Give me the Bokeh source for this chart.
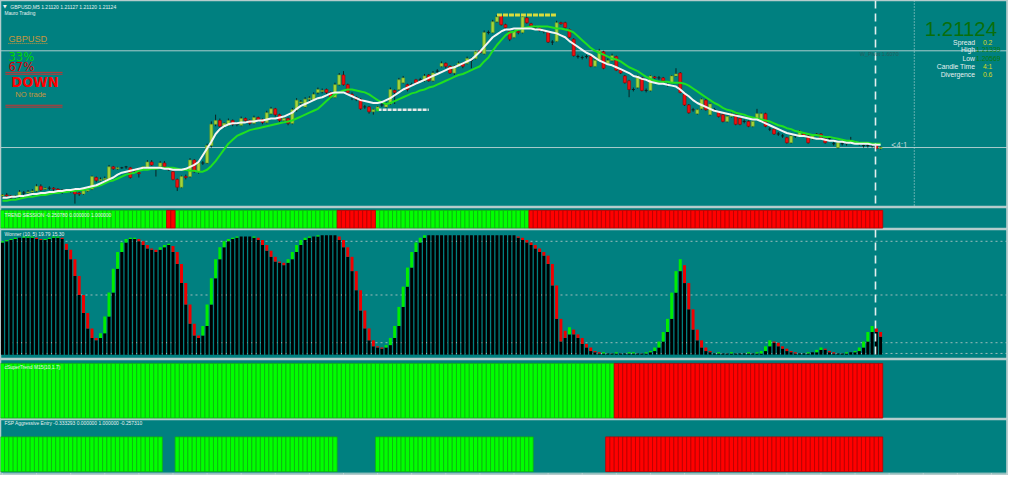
import numpy as np
from bokeh.plotting import figure
from bokeh.layouts import column
from bokeh.models import Range1d, Label, Span
from bokeh.embed import file_html
from bokeh.resources import INLINE

# ---------------- data ----------------
BASE = 1.21000
POINT = 0.00001

open_pts = [74,75,74,73,73,77,77,78,79,84, 81,82,82,81,80,78,78,80,77,76,
            79,81,93,90,91,91,104,102,103,104, 103,101,98,103,103,109,103,104,108,103,
            99,91,83,94,94,111,99,108,108,126, 148,152,146,147,152,148,147,154,152,149,
            155,153,150,159,164,158,152,154,149,163, 170,166,174,173,181,182,184,181,176,189,
            199,189,179,176,174,166,166,161,163,168, 166,169,183,184,191,189,189,194,194,193,
            199,193,203,208,211,208,201,208,211,211, 214,216,224,221,243,243,254,260,251,244,
            238,244,243,258,252,248,247,244,243,233, 234,253,253,246,236,218,217,218,218,208,
            214,223,211,214,218,204,198,193,184,186, 196,183,183,197,196,196,189,191,198,201,
            179,168,163,159,164,173,158,163,161,158, 151,156,158,154,151,151,146,154,151,159,
            143,143,138,136,134,129,136,136,139,136, 133,138,138,133,133,128,124,128,128,129,
            129,128,126,126,126,126,123]
close_pts = [75,74,72,74,78,77,78,79,84,80, 82,82,81,80,78,79,80,76,76,79,
             80,94,90,91,92,104,102,103,103,104, 93,100,97,104,109,106,102,108,104,101,
             91,83,94,93,111,99,108,108,126,148, 152,146,149,152,148,148,154,152,149,155,
             153,150,160,164,158,152,154,149,163,173, 171,174,175,179,184,183,181,176,189,199,
             189,181,177,174,164,166,161,163,166,168, 169,184,181,194,196,184,189,191,194,198,
             193,201,203,211,208,201,208,211,208,216, 214,223,222,243,243,254,259,251,248,236,
             244,243,259,253,250,248,245,244,233,233, 253,252,248,238,219,218,217,218,208,214,
             224,206,214,219,204,201,191,184,184,198, 183,183,198,196,196,193,189,198,200,181,
             168,160,163,163,174,163,169,163,156,151, 156,159,148,148,151,146,151,159,159,146,
             143,138,138,136,129,136,136,141,136,129, 136,137,134,129,133,128,129,128,128,131,
             129,128,126,126,126,123,124]
high_pts = [76,77,75,75,80,79,80,81,86,86, 83,84,83,82,81,80,81,81,78,81,
            82,95,94,93,94,106,105,104,104,105, 104,102,100,105,111,111,104,110,110,104,
            100,92,95,96,113,112,109,110,128,151, 158,154,150,154,153,150,156,155,153,157,
            156,154,162,166,165,159,156,155,165,175, 173,176,177,181,186,185,185,182,191,201,
            203,190,181,177,175,168,167,164,167,170, 171,186,184,196,198,190,191,195,196,200,
            200,203,205,213,212,209,209,213,212,218, 217,224,225,245,245,256,261,261,252,245,
            246,245,260,259,253,250,248,246,244,235, 255,254,254,247,237,220,219,220,219,215,
            226,224,216,221,219,205,199,194,186,199, 197,185,199,198,198,197,191,199,206,202,
            180,169,165,164,175,174,170,165,162,159, 157,160,159,155,153,152,152,164,160,160,
            145,144,140,138,135,137,138,142,140,137, 137,139,139,134,135,130,130,130,130,135,
            131,130,128,128,128,127,125]
low_pts = [72,73,70,71,72,75,76,76,78,79, 80,80,79,78,76,77,77,66,74,75,
           78,80,88,89,90,90,101,101,102,102, 92,98,93,102,102,105,94,103,103,100,
           90,79,82,91,93,98,97,106,107,124, 146,145,144,146,146,146,146,150,147,148,
           151,148,149,158,156,150,151,147,148,161, 168,165,172,172,179,180,179,174,175,188,
           188,179,173,172,163,164,159,158,162,166, 165,168,169,183,190,182,187,189,192,192,
           192,192,201,207,206,200,199,207,206,210, 206,215,221,220,241,242,253,250,246,234,
           237,241,242,252,249,246,244,242,232,230, 233,251,247,237,218,216,215,216,207,207,
           213,205,210,213,203,200,190,176,182,185, 182,181,182,195,194,192,187,190,197,180,
           167,159,161,158,163,162,157,161,155,150, 150,155,147,147,149,145,145,153,150,145,
           141,137,136,134,128,128,134,135,135,128, 132,136,133,128,131,126,123,126,126,128,
           127,126,124,124,124,122,122]

ma_white_pts = [72,72,73,73,74,74,75,76,76,77, 77,78,78,79,79,80,80,81,81,82,
                83,84,85,87,89,91,93,96,98,99, 100,101,102,103,103,103,103,103,102,102,
                101,101,101,102,104,106,109,116,123,130, 138,143,146,148,149,149,150,150,151,151,
                152,152,153,154,154,155,156,158,160,164, 167,169,171,173,175,176,178,180,181,181,
                181,179,177,175,173,172,171,170,170,171, 173,175,178,181,184,186,188,190,192,194,
                196,198,200,202,204,206,207,209,211,213, 215,219,223,228,233,238,241,244,246,246,
                247,247,247,247,247,246,246,245,244,243, 242,240,238,234,231,228,225,222,220,217,
                214,212,210,209,207,205,203,201,198,197, 195,194,192,191,190,190,189,188,187,184,
                180,177,173,170,168,166,164,162,161,160, 159,158,157,156,155,154,153,153,151,149,
                147,145,143,141,139,138,137,136,136,135, 134,133,133,132,131,131,130,130,129,129,
                128,128,128,128,127,127,127]
ma_green_pts = [69,69,70,70,71,72,73,73,74,75, 75,76,77,77,78,78,79,79,80,80,
                81,83,84,85,87,89,90,92,94,96, 97,98,100,101,101,102,102,103,103,103,
                103,102,101,101,100,100,99,99,101,105, 110,116,122,128,132,136,138,140,142,143,
                144,145,146,147,148,149,150,151,152,154, 156,158,160,162,164,168,172,176,179,181,
                183,184,184,183,182,181,179,176,173,171, 169,170,172,174,176,178,180,181,183,184,
                186,187,189,191,193,195,197,199,200,202, 204,206,208,213,217,224,230,235,240,243,
                244,246,247,248,249,249,249,249,249,248, 247,247,246,245,243,239,235,231,227,224,
                222,220,218,216,215,213,210,207,205,203, 200,197,195,193,192,192,192,191,191,191,
                190,188,185,182,179,176,173,170,168,165, 163,162,160,159,158,156,155,154,153,152,
                151,149,147,146,144,143,141,140,139,138, 137,137,136,135,135,134,133,132,131,131,
                130,129,129,129,128,128,128]

pivot_pts = 224
swing_high_bars = [116, 130]
swing_low_bars = [88, 100]
swing_low_pts = 163

# indicator states: (state, number of bars)  1 = up, -1 = down, 0 = none
trend_session_runs = [(1, 39), (-1, 2), (1, 38), (-1, 9), (1, 36), (-1, 83)]
supertrend_runs = [(1, 144), (-1, 63)]
fsp_runs = [(1, 38), (0, 3), (1, 38), (0, 9), (1, 37), (0, 17), (-1, 65)]

wonner_hi = [95,96,97,98,98,99,99,99,98,97,97,98,99,99,98,
             93,88,80,66,50,35,22,14,18,32, 52,72,86,94,97,98,98,97,95,92,
             89,88,90,92,93,91,86,76,60,42, 26,16,24,42,64,80,90,95,97,98,
             99,99,99,99,99,98,96,92,87,82, 78,77,80,86,92,96,98,99,99,100,
             100,100,100,100,99,96,90,82,70,54, 37,22,12,7,6,8,14,24,40,57,
             73,86,94,98,
             100,100,100,100,100,100,100,100,100,100,100,100,100,100,100,100,100,100,100,100,100,100,
             99,98,96,94,92,89,86,83,76,58, 30,20,23,21,17,14,9,6,3,
             2,2,1,1,2,1,1,2,2,1,1,2,
             3,6,11,19,30,52,70,80,75,60,38,21,12,6,3,
             1,2,1,1,2,1,1,1,2,1,2,
             3,7,12,11,10,7,5,3,2,1,1,2,
             2,4,6,5,3,2,1,1,2,2,3,6,11,19,24,22,19]
wonner_lo = [94,95,96,97,98,98,98,98,97,96,96,97,98,98,97,
             88,80,66,50,35,22,14,12,14,18, 32,52,72,86,94,97,97,95,92,89,
             88,86,88,90,92,86,76,60,42,26, 16,14,16,24,42,64,80,90,95,97,
             98,99,99,99,98,96,92,87,82,78, 77,75,77,80,86,92,96,98,99,99,
             100,100,100,100,96,90,82,70,54,37, 22,12,7,6,5,6,8,14,24,40,
             57,73,86,94,
             98,100,100,100,100,100,100,100,100,100,100,100,100,100,100,100,100,100,100,100,100,100,
             98,96,94,92,89,86,83,76,58,30, 11,14,17,17,14,9,6,3,2,
             1,1,1,1,1,1,1,1,1,1,1,1,
             2,3,6,11,19,30,52,70,60,38,21,12,6,3,2,
             1,1,1,1,1,1,1,1,1,1,1,
             1,3,7,10,7,5,3,2,1,1,1,1,
             2,2,4,4,2,1,1,1,1,2,2,3,6,11,19,19,15]
wonner_levels = [95, 50, 10, 1]

header_text = "GBPUSD,M5  1.21120 1.21127 1.21120 1.21124"
ts_text = "TREND SESSION -0.250780 0.000000 1.000000"
won_text = "Wonner (10, 5) 19.79 15.30"
cst_text = "cSuperTrend M15(10,1.7)"
fsp_text = "FSP Aggressive Entry -0.333293 0.000000 1.000000 -0.257310"

# ---------------- derived ----------------
N = len(close_pts)
idx = np.arange(N)
o = BASE + np.array(open_pts) * POINT
c = BASE + np.array(close_pts) * POINT
hi = BASE + np.array(high_pts) * POINT
lo = BASE + np.array(low_pts) * POINT
maw = BASE + np.array(ma_white_pts) * POINT
mag = BASE + np.array(ma_green_pts) * POINT


def expand(runs):
    out = []
    for v, n in runs:
        out += [v] * n
    return np.array(out)


# ---------------- layout ----------------
W, H = 1008, 475
SX = W / 1024.0
FS = 0.97
BG = "#008080"
SEP = "#b4cccc"
XR = Range1d(-0.46, 236.0)
X0, X1 = -0.46, 236.0

REF_TOP = [0, 214, 237, 371, 433]
REF_BOT = [214, 237, 371, 433, 491]
OUT_H = [207, 22, 130, 60, 56]
YR = [(BASE + 62 * POINT, BASE + 276 * POINT),
      (-0.081, 1.162),
      (-4.07, 104.9),
      (-0.027, 1.071),
      (-0.111, 1.5)]

panels = []
for k in range(5):
    p = figure(width=W, height=OUT_H[k], x_range=XR, y_range=Range1d(*YR[k]),
               toolbar_location=None, output_backend="svg", title=None,
               x_axis_location=None, y_axis_location=None, min_border=0,
               background_fill_color=BG, border_fill_color=BG,
               outline_line_color=SEP, outline_line_width=1.5)
    p.xgrid.visible = False
    p.ygrid.visible = False
    panels.append(p)
pm, pts_, pw, pc, pf = panels


def xd(rx):
    return X0 + rx / 1024.0 * (X1 - X0)


def yd(k, ry):
    y0, y1 = YR[k]
    return y1 - (ry - REF_TOP[k]) / (REF_BOT[k] - REF_TOP[k]) * (y1 - y0)


def text(k, rx, ry, s, size, color, align="left", font="Liberation Sans", style="normal"):
    h = OUT_H[k]
    y = h * (REF_BOT[k] - ry) / (REF_BOT[k] - REF_TOP[k])
    panels[k].add_layout(Label(x=rx * SX, y=y, x_units="screen", y_units="screen", text=s,
                               text_font=font, text_font_size=f"{size * FS:.1f}px",
                               text_color=color, text_align=align, text_baseline="middle",
                               text_font_style=style))


# ---------------- main chart ----------------
pm.add_layout(Span(location=BASE + pivot_pts * POINT, dimension="width",
                   line_color="#a8cccc", line_width=1, level="underlay"))
pm.add_layout(Span(location=c[-1], dimension="width",
                   line_color="#a8cccc", line_width=1, level="underlay"))

WICK = "#0c2222"
pm.segment(x0=idx, y0=lo, x1=idx, y1=hi, line_color=WICK, line_width=1)
bull = c > o
bear = c < o
doji = c == o
pm.vbar(x=idx[bull], bottom=o[bull], top=c[bull], width=0.7,
        fill_color="#a4d43c", line_color="#6c9c1c", line_width=0.6)
pm.vbar(x=idx[bear], bottom=c[bear], top=o[bear], width=0.7,
        fill_color="#ee1010", line_color="#a00000", line_width=0.6)
pm.segment(x0=idx[doji] - 0.35, y0=o[doji], x1=idx[doji] + 0.35, y1=o[doji],
           line_color=WICK, line_width=1)

pm.line(idx, mag, line_color="#20e020", line_width=2)
pm.line(idx, maw, line_color="#f4f4f4", line_width=2)

# swing markers
sh0, sh1 = swing_high_bars
pm.segment(x0=[sh0], y0=[hi[sh0]], x1=[sh1], y1=[hi[sh0]], line_color="#d8dc3c",
           line_width=3, line_dash="5 1")
sl0, sl1 = swing_low_bars
lv = BASE + swing_low_pts * POINT
pm.segment(x0=[sl0], y0=[lv], x1=[sl1], y1=[lv], line_color="#e8e8e8",
           line_width=2.5, line_dash="4 1")
pm.segment(x0=[sl0 - 0.3], y0=[lv], x1=[sl0 + 0.3], y1=[lv], line_color="#20e020", line_width=3)

# vertical markers
for pp in (pm, pw):
    pp.add_layout(Span(location=204.8, dimension="height", line_color="#e4eeee",
                       line_width=1.6, line_dash="8 5"))
pm.add_layout(Span(location=213.9, dimension="height", line_color="#c4dcdc",
                   line_width=1, line_dash="1 2"))
for pp in panels:
    pp.add_layout(Span(location=235.6, dimension="height", line_color="#c4d4d4", line_width=1))

# decorations top-left
pm.line([xd(8), xd(48)], [yd(0, 44.5)] * 2, line_color="#c8963c", line_width=1, line_dash="1 1")
for ry in (74.3, 76.2, 108.3, 110.2):
    pm.line([xd(5), xd(63)], [yd(0, ry)] * 2, line_color="#c83030", line_width=1)

text(0, 2.5, 6, "\u25bc", 5, "#f0f0f0", font="DejaVu Sans")
text(0, 10, 6.5, header_text, 5.2, "#e8f0f0")
text(0, 4, 13.5, "Mauro Trading", 5.0, "#e8f0f0")
text(0, 8, 40, "GBPUSD", 9.5, "#c8963c")
text(0, 8, 58, "33%", 12, "#00d800", font="DejaVu Sans")
text(0, 8, 68.5, "67%", 12, "#d80000", font="DejaVu Sans")
text(0, 11, 84, "DOWN", 15, "#ff0000", font="Liberation Sans Narrow, DejaVu Sans Condensed, Liberation Sans", style="bold")
text(0, 15, 97, "NO trade", 7.8, "#c8963c")
text(0, 873, 55.5, "W_Pivot 1.6070", 5.7, "#2a5c5c")
text(0, 905, 149.5, "<4:1", 8.6, "#b8d4d4")
text(0, 939, 29.5, "1.21124", 21, "#0a6e0a")
for ry, lab, val, vcol, vx in [(43, "Spread", "0.2", "#d8d820", 998),
                               (51, "High", "1.21339", "#0a7a0a", 991),
                               (59.5, "Low", "1.20569", "#0a7a0a", 991),
                               (68, "Candle Time", "4:1", "#d8d820", 998),
                               (76, "Divergence", "0.6", "#d8d820", 998)]:
    text(0, 990, ry, lab, 7, "#e8f0f0", align="right")
    text(0, vx, ry, val, 7, vcol)


# ---------------- state strips ----------------
def strip(p, states):
    up = states == 1
    dn = states == -1
    p.vbar(x=idx[up], bottom=0, top=1, width=1.0, fill_color="#00ff00",
           line_color="#10b010", line_width=0.8)
    p.vbar(x=idx[dn], bottom=0, top=1, width=1.0, fill_color="#ff0000",
           line_color="#b80000", line_width=0.8)


strip(pts_, expand(trend_session_runs))
strip(pc, expand(supertrend_runs))
strip(pf, expand(fsp_runs))
text(1, 4, 222, ts_text, 5.1, "#e8f0f0")
text(3, 4, 379, cst_text, 5.1, "#e8f0f0")
text(4, 4, 437.5, fsp_text, 5.1, "#e8f0f0")

# bottom time-scale edge
pf.line([X0, X1], [yd(4, 488.6)] * 2, line_color="#c4d4d4", line_width=1)
tick_bars = np.arange(0, 236, 8)
pf.segment(x0=tick_bars, y0=yd(4, 488.6), x1=tick_bars, y1=yd(4, 491), line_color="#c4d4d4", line_width=1)

# ---------------- Wonner ----------------
whi = np.array(wonner_hi, dtype=float)
wlo = np.array(wonner_lo, dtype=float)
rising = np.concatenate([[True], whi[1:] >= whi[:-1]])
for lvl in wonner_levels:
    pw.add_layout(Span(location=lvl, dimension="width", line_color="#9cbcbc",
                       line_width=1, line_dash="2 3", level="underlay"))
pw.vbar(x=idx, bottom=0, top=wlo, width=0.7, fill_color="#000000", line_color=None)
up_tip = rising & (whi > wlo)
dn_tip = (~rising) & (whi > wlo)
pw.vbar(x=idx[up_tip], bottom=wlo[up_tip], top=whi[up_tip], width=0.7, fill_color="#00ee00", line_color=None)
pw.vbar(x=idx[dn_tip], bottom=wlo[dn_tip], top=whi[dn_tip], width=0.7, fill_color="#ee0000", line_color=None)
text(2, 4, 242, won_text, 5.1, "#e8f0f0")

layout = column(*panels)
open("out.html", "w").write(file_html(layout, INLINE, title="GBPUSD M5"))
